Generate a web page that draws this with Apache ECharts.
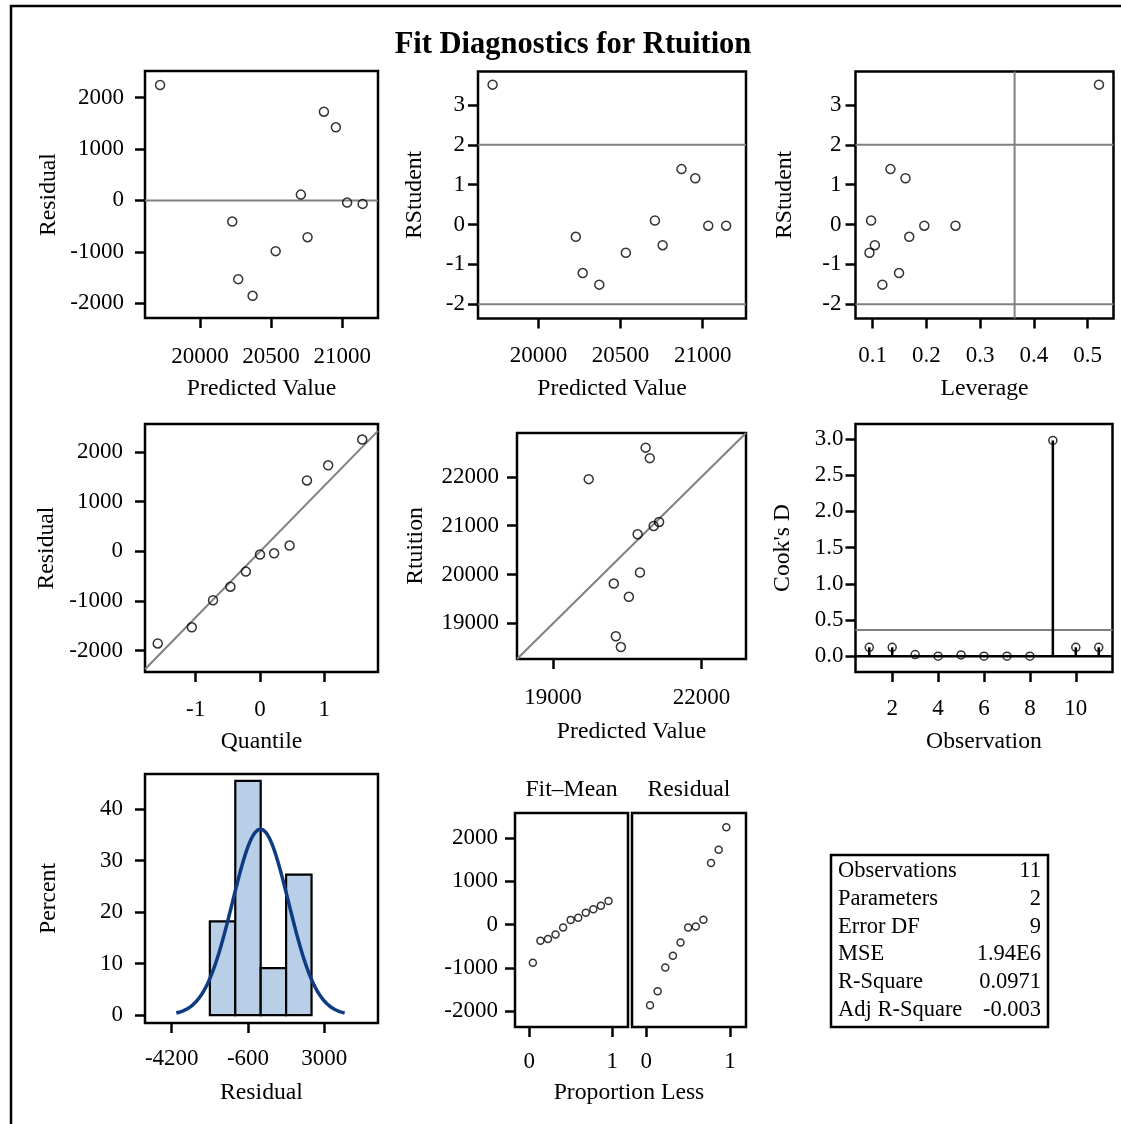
<!DOCTYPE html>
<html>
<head>
<meta charset="utf-8">
<title>Fit Diagnostics for Rtuition</title>
<script src="https://cdn.jsdelivr.net/npm/echarts@6/dist/echarts.min.js"></script>
<style>
  html, body { margin: 0; padding: 0; background: #fff; }
  #chart { width: 1121px; height: 1124px; }
</style>
</head>
<body>
<div id="chart"></div>
<script>
// ---- Regression output, one entry per observation (ordered by predicted value) ----
const predicted = [19720, 20227, 20269, 20370, 20532, 20709, 20756, 20871, 20955, 21034, 21143];
const residual  = [2247, -412, -1533, -1858, -988, 113, -716, 1728, 1424, -43, -68];
const rstudent  = [3.51, -0.31, -1.22, -1.51, -0.71, 0.10, -0.52, 1.39, 1.16, -0.03, -0.03];
const leverage  = [0.521, 0.168, 0.149, 0.118, 0.094, 0.097, 0.104, 0.133, 0.161, 0.196, 0.254];
const rtuition  = [21955, 19815, 18736, 18515, 19544, 20825, 20042, 22600, 22385, 20995, 21078];

// Cook's D in observation order
const observation = [1, 2, 3, 4, 5, 6, 7, 8, 9, 10, 11];
const cooksD      = [0.124, 0.124, 0.023, 0.002, 0.018, 0.001, 0.001, 0.001, 2.98, 0.124, 0.124];

// Normal quantiles for the Q-Q plot, and proportions for the spread plot
const normalQuantile = [-1.59, -1.06, -0.73, -0.46, -0.22, 0, 0.22, 0.46, 0.73, 1.06, 1.59];
const proportionLess = [0.045, 0.136, 0.227, 0.318, 0.409, 0.5, 0.591, 0.682, 0.773, 0.864, 0.955];

// Residual histogram
const binEdges    = [-2400, -1200, 0, 1200, 2400];
const binPercent  = [18.2, 45.5, 9.1, 27.3];

// Diagnostic cutoffs
const rstudentCut = 2;        // |RStudent| > 2
const leverageCut = 0.364;    // 2p/n
const cooksCut    = 0.364;    // 4/n

// Fit statistics table
const statLabels = ['Observations', 'Parameters', 'Error DF', 'MSE', 'R-Square', 'Adj R-Square'];
const statValues = ['11', '2', '9', '1.94E6', '0.0971', '-0.003'];

// Tick labels
const ticksResid   = [-2000, -1000, 0, 1000, 2000];
const ticksPred    = [20000, 20500, 21000];
const ticksRStud   = [-2, -1, 0, 1, 2, 3];
const ticksLev     = [0.1, 0.2, 0.3, 0.4, 0.5];
const ticksQuant   = [-1, 0, 1];
const ticksObsY    = [19000, 20000, 21000, 22000];
const ticksObsX    = [19000, 22000];
const ticksCookY   = [0, 0.5, 1, 1.5, 2, 2.5, 3];
const ticksCookX   = [2, 4, 6, 8, 10];
const ticksPct     = [0, 10, 20, 30, 40];
const ticksHistX   = [-4200, -600, 3000];
const ticksProp    = [0, 1];

// ---- Styling ----
const FONT = '"Liberation Serif", "Times New Roman", Times, serif';
const FS_TICK = 23;
const FS_NAME = 23.7;
const FS_TABLE = 22.5;
const REF = '#808080';
const tickTxt = { fontFamily: FONT, fontSize: FS_TICK, color: '#000' };
const nameTxt = { fontFamily: FONT, fontSize: FS_NAME, color: '#000' };

function axis(gridIndex, min, max, ticks, o) {
  o = o || {};
  return {
    type: 'value', gridIndex, min, max,
    axisLine: { show: false, onZero: false },
    axisTick: { show: true, length: 10, customValues: ticks, lineStyle: { color: '#000', width: 2.5 } },
    axisLabel: Object.assign({ show: o.labels !== false, customValues: ticks, margin: o.margin ?? 26,
      formatter: o.fmt || (v => String(v)) }, tickTxt),
    splitLine: { show: false },
    name: o.name || '', nameLocation: 'middle', nameGap: o.nameGap ?? 50,
    nameTextStyle: nameTxt
  };
}

const gridBase = { show: true, borderColor: '#000', borderWidth: 2.5, backgroundColor: 'transparent',
                   containLabel: false, outerBoundsMode: 'none' };
const grids = [
  { left: 145,   top: 71,   width: 233, height: 247 },
  { left: 478,   top: 71.5, width: 268, height: 247 },
  { left: 855.5, top: 71.5, width: 258, height: 247 },
  { left: 145,   top: 424,  width: 233, height: 248 },
  { left: 517,   top: 433,  width: 229, height: 226 },
  { left: 855.5, top: 424,  width: 257, height: 248 },
  { left: 145,   top: 774,  width: 233, height: 249 },
  { left: 515,   top: 813,  width: 113, height: 214 },
  { left: 632,   top: 813,  width: 114, height: 214 }
].map(g => Object.assign({}, gridBase, g));

const fix1 = v => v.toFixed(1);

// axis ranges
const R = {
  p1x: [19614, 21251], p1y: [-2290, 2520],
  p2x: [19631, 21264], rsy: [-2.36, 3.84],
  levx: [0.068, 0.548],
  qqx: [-1.788, 1.835], qqy: [-2433, 2560],
  ovp: [18270, 22900],
  cdx: [0.4, 11.6], cdy: [-0.217, 3.207],
  hx: [-5461, 5537], hy: [-1.55, 46.85],
  spx: [-0.17, 1.19], spy: [-2360, 2575]
};

const xAxes = [
  axis(0, R.p1x[0], R.p1x[1], ticksPred, { name: 'Predicted Value', nameGap: 59, margin: 27 }),
  axis(1, R.p2x[0], R.p2x[1], ticksPred, { name: 'Predicted Value', nameGap: 58, margin: 26 }),
  axis(2, R.levx[0], R.levx[1], ticksLev, { name: 'Leverage', nameGap: 58, margin: 26, fmt: fix1 }),
  axis(3, R.qqx[0], R.qqx[1], ticksQuant, { name: 'Quantile', nameGap: 58, margin: 26 }),
  axis(4, R.ovp[0], R.ovp[1], ticksObsX, { name: 'Predicted Value', nameGap: 61, margin: 27 }),
  axis(5, R.cdx[0], R.cdx[1], ticksCookX, { name: 'Observation', nameGap: 58, margin: 25 }),
  axis(6, R.hx[0], R.hx[1], ticksHistX, { name: 'Residual', nameGap: 58, margin: 24 }),
  axis(7, R.spx[0], R.spx[1], ticksProp, { margin: 23 }),
  axis(8, R.spx[0], R.spx[1], ticksProp, { margin: 23 })
];
const yAxes = [
  axis(0, R.p1y[0], R.p1y[1], ticksResid, { name: 'Residual', nameGap: 84, margin: 21 }),
  axis(1, R.rsy[0], R.rsy[1], ticksRStud, { name: 'RStudent', nameGap: 51, margin: 13 }),
  axis(2, R.rsy[0], R.rsy[1], ticksRStud, { name: 'RStudent', nameGap: 59, margin: 14 }),
  axis(3, R.qqy[0], R.qqy[1], ticksResid, { name: 'Residual', nameGap: 86, margin: 22 }),
  axis(4, R.ovp[0], R.ovp[1], ticksObsY, { name: 'Rtuition', nameGap: 89, margin: 18 }),
  axis(5, R.cdy[0], R.cdy[1], ticksCookY, { name: "Cook's D", nameGap: 61, margin: 12, fmt: fix1 }),
  axis(6, R.hy[0], R.hy[1], ticksPct, { name: 'Percent', nameGap: 84, margin: 22 }),
  axis(7, R.spy[0], R.spy[1], ticksResid, { margin: 17 }),
  Object.assign(axis(8, R.spy[0], R.spy[1], ticksResid, { labels: false }), { axisTick: { show: false } })
];

// helpers for series
function dots(idx, data, size) {
  return { type: 'scatter', xAxisIndex: idx, yAxisIndex: idx, data, symbol: 'circle',
    symbolSize: size || 9, z: 5, silent: true,
    itemStyle: { color: 'rgba(255,255,255,0)', borderColor: '#000', borderWidth: 1.5 } };
}
function refLine(idx, data, color, width) {
  return { type: 'line', xAxisIndex: idx, yAxisIndex: idx, data, showSymbol: false, symbol: 'none',
    silent: true, z: 3, lineStyle: { color: color || REF, width: width || 2 } };
}

// derived quantities
const n = residual.length;
const resMean = residual.reduce((a, b) => a + b, 0) / n;
const resSd = Math.sqrt(residual.reduce((a, b) => a + (b - resMean) ** 2, 0) / (n - 1));
const sortedRes = residual.slice().sort((a, b) => a - b);
const predMean = predicted.reduce((a, b) => a + b, 0) / n;
const fitMinusMean = predicted.slice().sort((a, b) => a - b).map(v => v - predMean);
const binWidth = binEdges[1] - binEdges[0];

// fitted normal density on the percent scale
const normalCurve = [];
for (let k = 0; k <= 120; k++) {
  const x = resMean - 3 * resSd + k * (6 * resSd / 120);
  const z = (x - resMean) / resSd;
  normalCurve.push([x, 100 * binWidth * Math.exp(-0.5 * z * z) / (resSd * Math.sqrt(2 * Math.PI))]);
}

const series = [
  // residual vs predicted
  refLine(0, [[R.p1x[0], 0], [R.p1x[1], 0]]),
  dots(0, predicted.map((p, i) => [p, residual[i]])),
  // rstudent vs predicted
  refLine(1, [[R.p2x[0], rstudentCut], [R.p2x[1], rstudentCut]]),
  refLine(1, [[R.p2x[0], -rstudentCut], [R.p2x[1], -rstudentCut]]),
  dots(1, predicted.map((p, i) => [p, rstudent[i]])),
  // rstudent vs leverage
  refLine(2, [[R.levx[0], rstudentCut], [R.levx[1], rstudentCut]]),
  refLine(2, [[R.levx[0], -rstudentCut], [R.levx[1], -rstudentCut]]),
  refLine(2, [[leverageCut, R.rsy[0]], [leverageCut, R.rsy[1]]]),
  dots(2, leverage.map((h, i) => [h, rstudent[i]])),
  // Q-Q plot
  refLine(3, [[R.qqx[0], resMean + resSd * R.qqx[0]], [R.qqx[1], resMean + resSd * R.qqx[1]]]),
  dots(3, normalQuantile.map((q, i) => [q, sortedRes[i]])),
  // observed vs predicted
  refLine(4, [[R.ovp[0], R.ovp[0]], [R.ovp[1], R.ovp[1]]]),
  dots(4, predicted.map((p, i) => [p, rtuition[i]])),
  // Cook's D needles
  refLine(5, [[R.cdx[0], cooksCut], [R.cdx[1], cooksCut]]),
  refLine(5, [[R.cdx[0], 0], [R.cdx[1], 0]], '#000', 2.5),
  {
    type: 'custom', xAxisIndex: 5, yAxisIndex: 5, silent: true, z: 4,
    data: observation.map((o, i) => [o, cooksD[i]]),
    renderItem: (params, api) => {
      const a = api.coord([api.value(0), 0]);
      const b = api.coord([api.value(0), api.value(1)]);
      return { type: 'line', shape: { x1: a[0], y1: a[1], x2: b[0], y2: b[1] },
               style: { stroke: '#000', lineWidth: 2.5 } };
    }
  },
  dots(5, observation.map((o, i) => [o, cooksD[i]]), 8),
  // histogram
  {
    type: 'custom', xAxisIndex: 6, yAxisIndex: 6, silent: true, z: 3,
    data: binPercent.map((p, i) => [binEdges[i], binEdges[i + 1], p]),
    encode: { x: [0, 1], y: 2 },
    renderItem: (params, api) => {
      const tl = api.coord([api.value(0), api.value(2)]);
      const br = api.coord([api.value(1), 0]);
      return { type: 'rect', shape: { x: tl[0], y: tl[1], width: br[0] - tl[0], height: br[1] - tl[1] },
               style: { fill: '#b9cfe7', stroke: '#000', lineWidth: 2.2 } };
    }
  },
  { type: 'line', xAxisIndex: 6, yAxisIndex: 6, data: normalCurve, showSymbol: false, symbol: 'none',
    silent: true, z: 4, lineStyle: { color: '#0f3b82', width: 3.5 } },
  // residual-fit spread
  dots(7, proportionLess.map((p, i) => [p, fitMinusMean[i]]), 7),
  dots(8, proportionLess.map((p, i) => [p, sortedRes[i]]), 7)
];

// titles, headers and the fit statistics table
const centered = (text, x, y, size, weight) => ({
  type: 'text', x, y, silent: true,
  style: { text, fontFamily: FONT, fontSize: size, fontWeight: weight || 'normal', fill: '#000',
           textAlign: 'center', textVerticalAlign: 'middle' }
});
const graphics = [
  { type: 'rect', shape: { x: 11, y: 6, width: 1300, height: 1300 }, silent: true,
    style: { fill: 'none', stroke: '#000', lineWidth: 2.5 } },
  centered('Fit Diagnostics for Rtuition', 573, 45, 30.5, 'bold'),
  centered('Fit\u2013Mean', 571.5, 790, FS_NAME),
  centered('Residual', 689, 790, FS_NAME),
  centered('Proportion Less', 629, 1093, FS_NAME),
  { type: 'rect', shape: { x: 831, y: 855, width: 217, height: 172 }, silent: true,
    style: { fill: '#fff', stroke: '#000', lineWidth: 2.5 } }
];
statLabels.forEach((label, i) => {
  const y = 871 + i * 27.8;
  graphics.push({ type: 'text', x: 838, y, silent: true,
    style: { text: label, fontFamily: FONT, fontSize: FS_TABLE, fill: '#000', textAlign: 'left', textVerticalAlign: 'middle' } });
  graphics.push({ type: 'text', x: 1041, y, silent: true,
    style: { text: statValues[i], fontFamily: FONT, fontSize: FS_TABLE, fill: '#000', textAlign: 'right', textVerticalAlign: 'middle' } });
});

const chart = echarts.init(document.getElementById('chart'), null, { renderer: 'canvas' });
chart.setOption({
  animation: false,
  backgroundColor: '#fff',
  grid: grids,
  xAxis: xAxes,
  yAxis: yAxes,
  series,
  graphic: graphics
});
</script>
</body>
</html>
